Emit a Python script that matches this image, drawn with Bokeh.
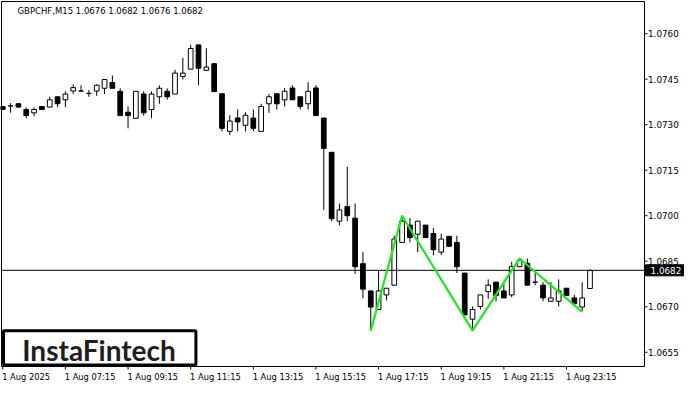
from bokeh.plotting import figure
from bokeh.models import Range1d, Label, BoxAnnotation, ColumnDataSource
from bokeh.core.properties import value
from bokeh.embed import file_html
from bokeh.resources import INLINE

symbol = "GBPCHF,M15"
last_ohlc = ["1.0676", "1.0682", "1.0676", "1.0682"]
current_price = 1.0682

opens = [1.07360, 1.07362, 1.07369, 1.07350, 1.07339, 1.07360, 1.07358, 1.07392, 1.07382, 1.07411,
         1.07411, 1.07403, 1.07411, 1.07420, 1.07439, 1.07410, 1.07341, 1.07321, 1.07401, 1.07350,
         1.07392, 1.07410, 1.07401, 1.07459, 1.07483, 1.07563, 1.07479, 1.07501, 1.07402, 1.07278,
         1.07322, 1.07298, 1.07322, 1.07278, 1.07369, 1.07402, 1.07382, 1.07421, 1.07392, 1.07369,
         1.07421, 1.07322, 1.07209, 1.06982, 1.07030, 1.06992, 1.06842, 1.06752, 1.06691, 1.06739,
         1.06771, 1.06912, 1.06969, 1.06939, 1.06969, 1.06941, 1.06880, 1.06932, 1.06912, 1.06811,
         1.06659, 1.06701, 1.06750, 1.06781, 1.06752, 1.06739, 1.06832, 1.06843, 1.06781, 1.06771,
         1.06718, 1.06718, 1.06761, 1.06729, 1.06699, 1.06760]
highs = [1.07362, 1.07371, 1.07371, 1.07357, 1.07357, 1.07360, 1.07392, 1.07392, 1.07410, 1.07433,
         1.07430, 1.07414, 1.07433, 1.07449, 1.07462, 1.07420, 1.07360, 1.07410, 1.07410, 1.07410,
         1.07430, 1.07420, 1.07481, 1.07520, 1.07563, 1.07563, 1.07552, 1.07501, 1.07402, 1.07331,
         1.07350, 1.07341, 1.07350, 1.07369, 1.07402, 1.07402, 1.07421, 1.07430, 1.07392, 1.07440,
         1.07430, 1.07322, 1.07209, 1.07040, 1.07161, 1.07040, 1.06880, 1.06752, 1.06819, 1.06761,
         1.06934, 1.07000, 1.06992, 1.06982, 1.06969, 1.06960, 1.06941, 1.06932, 1.06934, 1.06811,
         1.06701, 1.06739, 1.06790, 1.06781, 1.06777, 1.06848, 1.06861, 1.06859, 1.06816, 1.06781,
         1.06781, 1.06790, 1.06761, 1.06739, 1.06781, 1.06820]
lows = [1.07348, 1.07339, 1.07356, 1.07321, 1.07328, 1.07350, 1.07358, 1.07358, 1.07358, 1.07401,
        1.07411, 1.07392, 1.07395, 1.07401, 1.07420, 1.07330, 1.07288, 1.07321, 1.07330, 1.07321,
        1.07369, 1.07382, 1.07401, 1.07449, 1.07483, 1.07430, 1.07479, 1.07409, 1.07278, 1.07266,
        1.07278, 1.07278, 1.07278, 1.07278, 1.07339, 1.07350, 1.07360, 1.07382, 1.07350, 1.07350,
        1.07330, 1.07019, 1.06982, 1.06968, 1.06982, 1.06808, 1.06728, 1.06621, 1.06691, 1.06721,
        1.06771, 1.06912, 1.06912, 1.06880, 1.06928, 1.06870, 1.06870, 1.06899, 1.06811, 1.06673,
        1.06621, 1.06691, 1.06726, 1.06718, 1.06729, 1.06731, 1.06832, 1.06771, 1.06771, 1.06718,
        1.06718, 1.06701, 1.06737, 1.06710, 1.06686, 1.06760]
closes = [1.07350, 1.07362, 1.07358, 1.07330, 1.07350, 1.07350, 1.07382, 1.07369, 1.07401, 1.07422,
          1.07411, 1.07403, 1.07430, 1.07449, 1.07420, 1.07330, 1.07330, 1.07410, 1.07339, 1.07401,
          1.07420, 1.07392, 1.07470, 1.07470, 1.07551, 1.07486, 1.07490, 1.07409, 1.07288, 1.07312,
          1.07309, 1.07331, 1.07288, 1.07360, 1.07392, 1.07369, 1.07410, 1.07382, 1.07360, 1.07410,
          1.07330, 1.07222, 1.06990, 1.07019, 1.07000, 1.06832, 1.06758, 1.06699, 1.06752, 1.06761,
          1.06923, 1.06982, 1.06928, 1.06982, 1.06928, 1.06888, 1.06923, 1.06899, 1.06832, 1.06673,
          1.06691, 1.06739, 1.06771, 1.06737, 1.06729, 1.06832, 1.06853, 1.06771, 1.06781, 1.06729,
          1.06729, 1.06752, 1.06737, 1.06710, 1.06729, 1.06820]

x_tick_bars = [0, 8, 16, 24, 32, 40, 48, 56, 64, 72]
x_tick_labels = ["1 Aug 2025", "1 Aug 07:15", "1 Aug 09:15", "1 Aug 11:15", "1 Aug 13:15",
                 "1 Aug 15:15", "1 Aug 17:15", "1 Aug 19:15", "1 Aug 21:15", "1 Aug 23:15"]
y_ticks = [1.0655, 1.0670, 1.0685, 1.0700, 1.0715, 1.0730, 1.0745, 1.0760]
y_tick_labels = ["1.0655", "1.0670", "1.0685", "1.0700", "1.0715", "1.0730", "1.0745", "1.0760"]

pattern_bars = [47, 51, 60, 66, 74]
pattern_prices = [1.06621, 1.07000, 1.06621, 1.06859, 1.06683]

brand = "InstaFintech"

# ------------------------------------------------------------------ layout
W, H = 684, 384
XL, XR = -0.16, 81.96          # chart-window border in bar units
YT, YB = 1.07706, 1.06503      # chart-window border in price units
BL, BR = 1, 644                # border pixel columns
BT, BB = 1, 366                # border pixel rows
ppb = (BR - BL) / (XR - XL)    # pixels per bar
ppp = (BB - BT) / (YT - YB)    # pixels per price unit
x_start, x_end = XL - BL / ppb, XR + (W - BR) / ppb
y_end, y_start = YT + BT / ppp, YB - (H - BB) / ppp

FONT = value("DejaVu Sans")

p = figure(width=W, height=H, output_backend="svg", toolbar_location=None, tools="",
           x_range=Range1d(x_start, x_end), y_range=Range1d(y_start, y_end),
           x_axis_location=None, y_axis_location=None)
p.min_border_left = p.min_border_right = p.min_border_top = p.min_border_bottom = 0
p.outline_line_color = None
p.background_fill_color = "white"
p.border_fill_color = "white"
p.xgrid.visible = False
p.ygrid.visible = False

# candles
idx = list(range(len(opens)))
up = [i for i in idx if closes[i] >= opens[i]]
dn = [i for i in idx if closes[i] < opens[i]]
src_all = ColumnDataSource(dict(x=idx, h=highs, l=lows))
src_up = ColumnDataSource(dict(x=up, top=[closes[i] for i in up], bot=[opens[i] for i in up]))
src_dn = ColumnDataSource(dict(x=dn, top=[opens[i] for i in dn], bot=[closes[i] for i in dn]))

p.segment(x0="x", y0="l", x1="x", y1="h", source=src_all, line_color="black", line_width=1)
p.vbar(x="x", top="top", bottom="bot", width=0.6, source=src_up,
       fill_color="white", line_color="black", line_width=1)
p.vbar(x="x", top="top", bottom="bot", width=0.6, source=src_dn,
       fill_color="black", line_color="black", line_width=1)

# current price line (inside chart window)
p.segment(x0=[XL], y0=[current_price], x1=[XR], y1=[current_price],
          line_color="black", line_width=1)

# pattern line
p.line(pattern_bars, pattern_prices, line_color="#1ee81e", line_width=2.2)

# chart window border
p.add_layout(BoxAnnotation(left=XL, right=XR, top=YT, bottom=YB, fill_alpha=0,
                           line_color="black", line_width=1, line_alpha=1))

# y axis: ticks + labels on the right
n_y = len(y_ticks)
p.segment(x0=[XR] * n_y, y0=y_ticks, x1=[XR + 3 / ppb] * n_y, y1=y_ticks,
          line_color="black", line_width=1)
p.text(x=[XR + 3.5 / ppb] * n_y, y=y_ticks, text=y_tick_labels, text_font=FONT,
       text_font_size="8.8px", text_color="black", text_align="left", text_baseline="middle")

# x axis: ticks + left-aligned labels below
n_x = len(x_tick_bars)
p.segment(x0=x_tick_bars, y0=[YB] * n_x, x1=x_tick_bars, y1=[YB - 3 / ppp] * n_x,
          line_color="black", line_width=1)
p.text(x=[b - 0.08 for b in x_tick_bars], y=[YB - 5 / ppp] * n_x, text=x_tick_labels,
       text_font=FONT, text_font_size="8.3px", text_color="black",
       text_align="left", text_baseline="top")

# current price tag
p.add_layout(BoxAnnotation(left=XR + 1 / ppb, right=x_end, top=current_price + 5.5 / ppp,
                           bottom=current_price - 5.5 / ppp, fill_color="black", fill_alpha=1,
                           line_color="black", line_alpha=1))
p.add_layout(Label(x=XR + 6 / ppb, y=current_price, text="%.4f" % current_price,
                   text_font="DejaVu Sans", text_font_size="8.8px", text_color="white",
                   text_align="left", text_baseline="middle"))

# title
p.add_layout(Label(x=XL + 16 / ppb, y=YT - 4 / ppp,
                   text=symbol + "  " + " ".join(last_ohlc),
                   text_align="left", text_baseline="top",
                   text_font="DejaVu Sans", text_font_size="8.5px", text_color="black"))

# logo
logo_top = 1.06621
p.add_layout(BoxAnnotation(left=XL + 2 / ppb, right=24.67, bottom=YB + 1.5 / ppp, top=logo_top,
                           fill_color="white", fill_alpha=1.0,
                           line_color="black", line_width=3, line_alpha=1.0))
p.add_layout(Label(x=12.3, y=(logo_top + YB) / 2, y_offset=-1, text=brand, text_align="center",
                   text_baseline="middle", text_font="Lato", text_font_style="bold",
                   text_font_size="28px", text_color="#1e1e1e"))

open("out.html", "w").write(file_html(p, INLINE))
